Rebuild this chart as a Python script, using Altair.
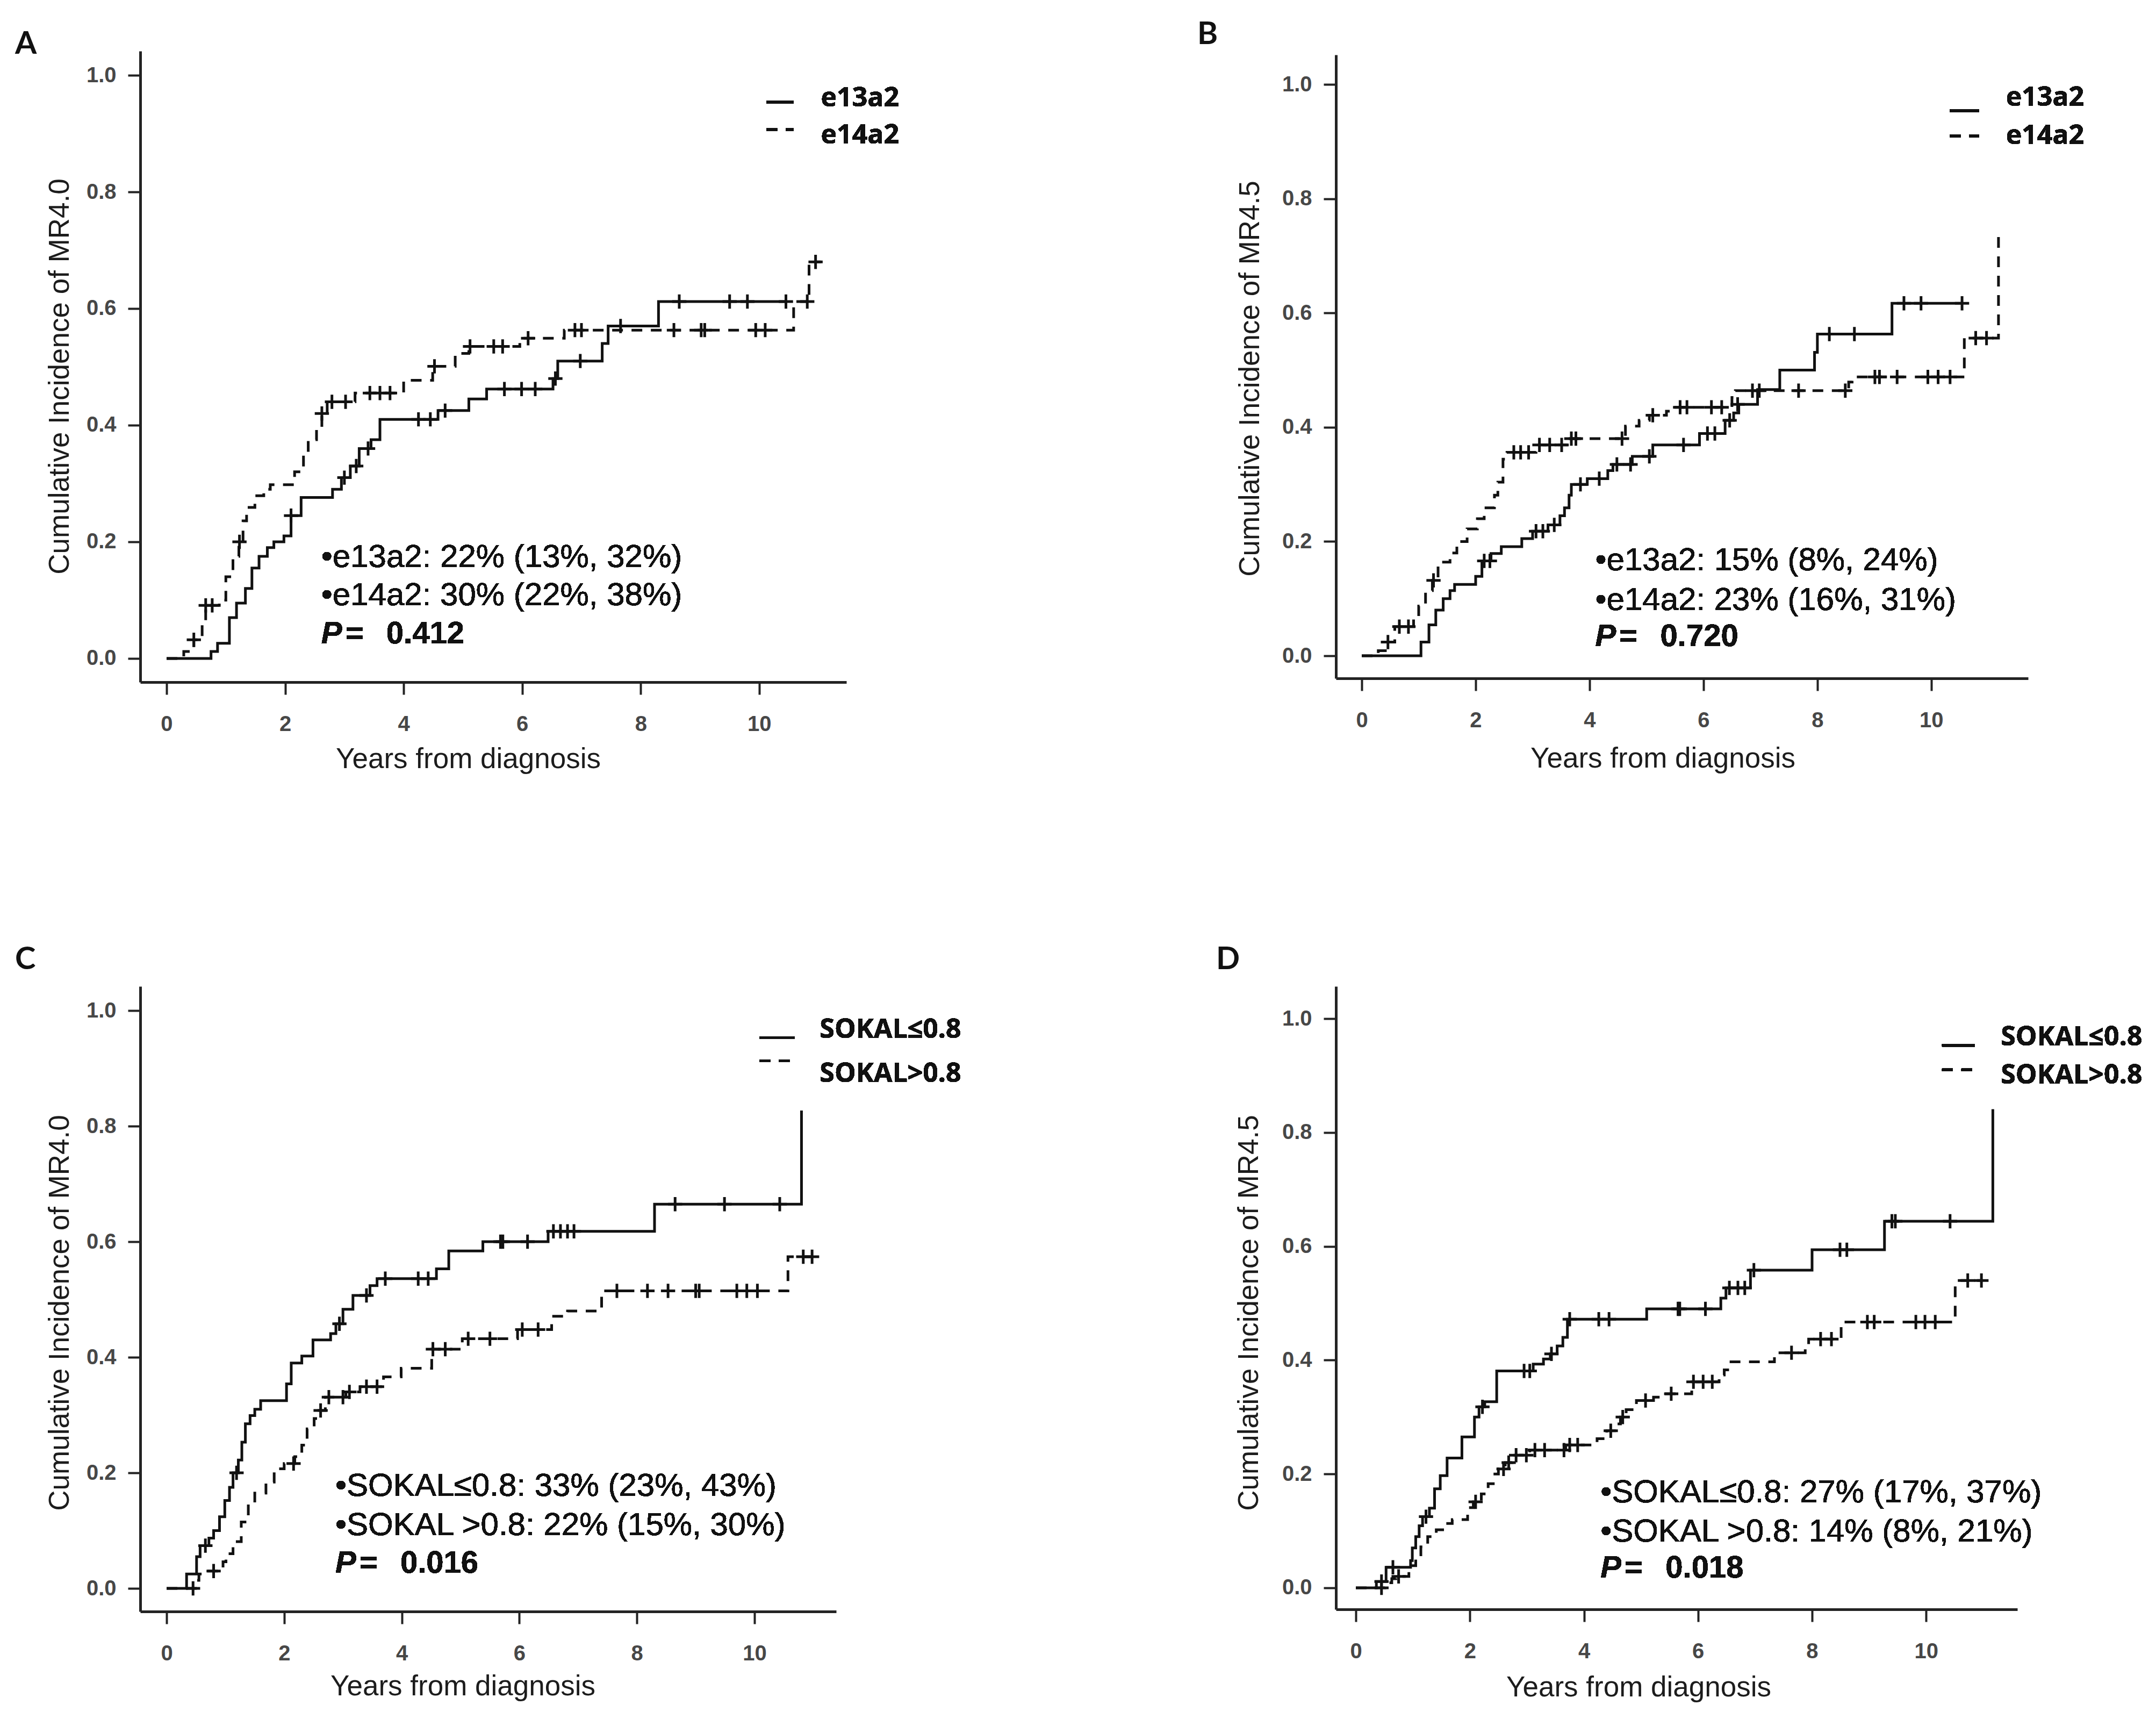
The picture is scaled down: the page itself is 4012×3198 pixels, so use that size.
import altair as alt
import pandas as pd

X_TICKS = [0, 2, 4, 6, 8, 10]
Y_TICKS = [0.0, 0.2, 0.4, 0.6, 0.8, 1.0]

# ---------------- Panel A : MR4.0, e13a2 (solid) vs e14a2 (dashed)
A_sol_t = [0, 0.75, 0.86, 1.06, 1.18, 1.33, 1.44, 1.56, 1.7, 1.81, 1.98, 2.1, 2.27, 2.8, 2.95, 3.1, 3.25, 3.45, 3.6, 4.58, 5.1, 5.4, 6.52, 6.6, 7.35, 7.45, 8.3, 10.45]
A_sol_v = [0, 0.012, 0.026, 0.07, 0.095, 0.12, 0.155, 0.175, 0.19, 0.2, 0.21, 0.245, 0.276, 0.29, 0.31, 0.33, 0.36, 0.375, 0.41, 0.425, 0.445, 0.462, 0.48, 0.51, 0.54, 0.57, 0.612, 0.612]
A_sol_ct = [2.1, 3.0, 3.2, 3.4, 4.25, 4.45, 4.7, 5.7, 5.99, 6.22, 6.56, 6.98, 7.66, 8.65, 9.5, 9.8, 10.45]
A_sol_cv = [0.245, 0.31, 0.33, 0.36, 0.41, 0.41, 0.425, 0.462, 0.462, 0.462, 0.48, 0.51, 0.57, 0.612, 0.612, 0.612, 0.612]
A_das_t = [0, 0.29, 0.46, 0.6, 0.66, 0.89, 1.0, 1.12, 1.22, 1.29, 1.35, 1.49, 1.64, 1.75, 2.16, 2.31, 2.39, 2.53, 2.62, 2.71, 3.18, 4.0, 4.49, 4.87, 5.1, 5.96, 6.71, 10.58, 10.84, 11.04]
A_das_v = [0, 0.012, 0.032, 0.064, 0.091, 0.1, 0.14, 0.175, 0.2, 0.236, 0.259, 0.279, 0.29, 0.298, 0.32, 0.351, 0.375, 0.395, 0.42, 0.44, 0.455, 0.477, 0.501, 0.523, 0.535, 0.549, 0.563, 0.612, 0.68, 0.68]
A_das_ct = [0.46, 0.66, 0.77, 1.23, 2.62, 2.79, 3.02, 3.43, 3.6, 3.77, 4.52, 5.12, 5.52, 5.67, 6.1, 6.89, 7.0, 8.56, 9.02, 9.08, 9.94, 10.1, 10.81, 10.95]
A_das_cv = [0.032, 0.091, 0.091, 0.2, 0.42, 0.44, 0.44, 0.455, 0.455, 0.455, 0.501, 0.535, 0.535, 0.535, 0.549, 0.563, 0.563, 0.563, 0.563, 0.563, 0.563, 0.563, 0.612, 0.68]
A_labels = ["e13a2", "e14a2"]
A_notes = ["\u2022e13a2: 22% (13%, 32%)", "\u2022e14a2: 30% (22%, 38%)"]
A_pval = "0.412"

# ---------------- Panel B : MR4.5, e13a2 vs e14a2
B_sol_t = [0, 1.04, 1.18, 1.3, 1.43, 1.55, 1.63, 2.0, 2.11, 2.27, 2.45, 2.81, 3.0, 3.27, 3.48, 3.56, 3.64, 3.68, 3.96, 4.32, 4.41, 4.75, 5.11, 5.93, 6.38, 6.53, 6.62, 6.95, 7.34, 7.95, 8.0, 9.31, 10.54]
B_sol_v = [0, 0.024, 0.054, 0.08, 0.1, 0.114, 0.125, 0.139, 0.166, 0.179, 0.191, 0.205, 0.218, 0.229, 0.245, 0.259, 0.281, 0.3, 0.31, 0.324, 0.335, 0.349, 0.369, 0.389, 0.412, 0.425, 0.44, 0.466, 0.5, 0.531, 0.563, 0.617, 0.617]
B_sol_ct = [2.15, 2.25, 3.06, 3.18, 3.38, 3.84, 4.17, 4.48, 4.72, 5.05, 5.65, 6.07, 6.2, 6.46, 6.6, 8.21, 8.65, 9.52, 9.82, 10.54]
B_sol_cv = [0.166, 0.166, 0.218, 0.218, 0.229, 0.3, 0.31, 0.335, 0.335, 0.349, 0.369, 0.389, 0.389, 0.412, 0.44, 0.563, 0.563, 0.617, 0.617, 0.617]
B_das_t = [0, 0.29, 0.46, 0.58, 0.91, 1.0, 1.12, 1.24, 1.34, 1.55, 1.67, 1.85, 2.03, 2.15, 2.33, 2.39, 2.48, 2.55, 3.06, 3.6, 4.63, 4.87, 5.05, 5.35, 5.47, 6.5, 6.56, 8.55, 8.61, 10.58, 11.18]
B_das_v = [0, 0.009, 0.024, 0.051, 0.065, 0.087, 0.114, 0.132, 0.164, 0.18, 0.2, 0.222, 0.24, 0.259, 0.281, 0.304, 0.344, 0.356, 0.369, 0.38, 0.402, 0.412, 0.421, 0.428, 0.435, 0.452, 0.464, 0.479, 0.488, 0.556, 0.745]
B_das_ct = [0.46, 0.66, 0.82, 1.26, 2.67, 2.79, 2.93, 3.12, 3.3, 3.51, 3.68, 3.76, 4.57, 5.11, 5.59, 5.71, 6.14, 6.32, 6.86, 6.98, 7.67, 8.49, 9.01, 9.09, 9.4, 9.94, 10.12, 10.33, 10.78, 10.97]
B_das_cv = [0.024, 0.051, 0.051, 0.132, 0.356, 0.356, 0.356, 0.369, 0.369, 0.369, 0.38, 0.38, 0.38, 0.421, 0.435, 0.435, 0.435, 0.435, 0.464, 0.464, 0.464, 0.464, 0.488, 0.488, 0.488, 0.488, 0.488, 0.488, 0.556, 0.556]
B_labels = ["e13a2", "e14a2"]
B_notes = ["\u2022e13a2: 15% (8%, 24%)", "\u2022e14a2: 23% (16%, 31%)"]
B_pval = "0.720"

# ---------------- Panel C : MR4.0, SOKAL<=0.8 vs SOKAL>0.8
C_sol_t = [0, 0.34, 0.51, 0.57, 0.72, 0.8, 0.9, 0.99, 1.07, 1.13, 1.22, 1.28, 1.34, 1.42, 1.5, 1.6, 2.04, 2.12, 2.3, 2.49, 2.79, 2.88, 3.0, 3.17, 3.46, 3.58, 4.59, 4.8, 5.38, 6.49, 8.3, 10.8]
C_sol_v = [0, 0.025, 0.055, 0.074, 0.087, 0.1, 0.124, 0.152, 0.175, 0.2, 0.222, 0.253, 0.285, 0.299, 0.31, 0.325, 0.354, 0.39, 0.402, 0.43, 0.441, 0.458, 0.483, 0.507, 0.524, 0.536, 0.553, 0.584, 0.6, 0.618, 0.665, 0.827]
C_sol_ct = [0.66, 1.19, 2.94, 3.4, 3.72, 4.28, 4.45, 5.68, 5.72, 6.14, 6.58, 6.7, 6.82, 6.93, 8.65, 9.49, 10.43]
C_sol_cv = [0.074, 0.2, 0.458, 0.507, 0.536, 0.536, 0.536, 0.6, 0.6, 0.6, 0.618, 0.618, 0.618, 0.618, 0.665, 0.665, 0.665]
C_das_t = [0, 0.49, 0.55, 0.65, 0.96, 1.01, 1.13, 1.27, 1.39, 1.5, 1.69, 1.83, 2.0, 2.18, 2.3, 2.39, 2.51, 2.59, 2.7, 3.05, 3.29, 3.69, 3.99, 4.51, 5.03, 5.97, 6.55, 6.82, 7.4, 10.57, 10.98]
C_das_v = [0, 0.014, 0.025, 0.03, 0.046, 0.06, 0.081, 0.115, 0.147, 0.165, 0.184, 0.207, 0.216, 0.228, 0.248, 0.276, 0.294, 0.308, 0.331, 0.34, 0.349, 0.366, 0.381, 0.414, 0.432, 0.448, 0.471, 0.48, 0.515, 0.574, 0.574]
C_das_ct = [0.45, 0.8, 2.16, 2.62, 2.76, 3.0, 3.11, 3.4, 3.58, 4.53, 4.74, 5.13, 5.5, 6.05, 6.32, 7.66, 8.18, 8.53, 9.0, 9.06, 9.7, 9.87, 10.05, 10.83, 10.98]
C_das_cv = [0, 0.03, 0.216, 0.308, 0.331, 0.331, 0.34, 0.349, 0.349, 0.414, 0.414, 0.432, 0.432, 0.448, 0.448, 0.515, 0.515, 0.515, 0.515, 0.515, 0.515, 0.515, 0.515, 0.574, 0.574]
C_labels = ["SOKAL\u22640.8", "SOKAL>0.8"]
C_notes = ["\u2022SOKAL\u22640.8: 33% (23%, 43%)", "\u2022SOKAL >0.8: 22% (15%, 30%)"]
C_pval = "0.016"

# ---------------- Panel D : MR4.5, SOKAL<=0.8 vs SOKAL>0.8
D_sol_t = [0, 0.36, 0.53, 0.96, 0.99, 1.05, 1.11, 1.17, 1.29, 1.38, 1.48, 1.6, 1.86, 2.08, 2.16, 2.26, 2.47, 3.11, 3.29, 3.41, 3.53, 3.63, 3.71, 5.1, 6.4, 6.49, 6.92, 8.0, 9.27, 11.17]
D_sol_v = [0, 0.011, 0.036, 0.048, 0.07, 0.09, 0.109, 0.125, 0.14, 0.174, 0.197, 0.228, 0.265, 0.3, 0.318, 0.327, 0.381, 0.393, 0.402, 0.411, 0.425, 0.44, 0.472, 0.49, 0.509, 0.527, 0.558, 0.594, 0.644, 0.841]
D_sol_ct = [0.45, 0.65, 1.23, 2.22, 2.95, 3.05, 3.43, 3.75, 4.26, 4.44, 5.65, 5.68, 6.13, 6.55, 6.7, 6.82, 6.98, 8.49, 8.61, 9.4, 9.46, 10.42]
D_sol_cv = [0.011, 0.036, 0.125, 0.318, 0.381, 0.381, 0.411, 0.472, 0.472, 0.472, 0.49, 0.49, 0.49, 0.527, 0.527, 0.527, 0.558, 0.594, 0.594, 0.644, 0.644, 0.644]
D_das_t = [0, 0.51, 0.63, 0.7, 0.93, 0.99, 1.05, 1.14, 1.26, 1.41, 1.57, 1.69, 1.96, 2.06, 2.2, 2.32, 2.41, 2.5, 2.62, 2.74, 3.05, 3.68, 4.23, 4.4, 4.56, 4.64, 4.74, 4.92, 5.22, 5.4, 5.89, 6.37, 6.46, 6.55, 7.34, 7.88, 7.94, 8.51, 10.51, 10.97]
D_das_v = [0, 0.009, 0.016, 0.02, 0.034, 0.039, 0.058, 0.072, 0.09, 0.102, 0.113, 0.12, 0.141, 0.151, 0.165, 0.183, 0.2, 0.209, 0.22, 0.233, 0.242, 0.251, 0.262, 0.276, 0.288, 0.3, 0.313, 0.329, 0.335, 0.341, 0.362, 0.374, 0.383, 0.397, 0.413, 0.425, 0.437, 0.467, 0.54, 0.54]
D_das_ct = [0.45, 0.75, 2.1, 2.59, 2.68, 2.81, 2.99, 3.14, 3.31, 3.65, 3.75, 3.89, 4.47, 4.68, 5.08, 5.53, 5.92, 6.09, 6.25, 7.64, 8.15, 8.34, 8.97, 9.09, 9.82, 9.98, 10.16, 10.73, 10.97]
D_das_cv = [0, 0.02, 0.151, 0.209, 0.22, 0.233, 0.233, 0.242, 0.242, 0.242, 0.251, 0.251, 0.276, 0.3, 0.329, 0.341, 0.362, 0.362, 0.362, 0.413, 0.437, 0.437, 0.467, 0.467, 0.467, 0.467, 0.467, 0.54, 0.54]
D_labels = ["SOKAL\u22640.8", "SOKAL>0.8"]
D_notes = ["\u2022SOKAL\u22640.8: 27% (17%, 37%)", "\u2022SOKAL >0.8: 14% (8%, 21%)"]
D_pval = "0.018"

# ---------------- styling / layout (not data)
INK = "#111111"
AXC = "#232323"
TXT = "Liberation Sans"
BOLDF = "Open Sans"
DASH = [20, 16]
PLUS = "M-1,0L1,0M0,-1L0,1"

LAYOUT = {
    "A": dict(w=1314, h=1174, xdom=[-0.444, 11.47], ydom=[-0.0406, 1.0415], ldx=-233, ldy=63,
              xtx=610, xty=159, ytx=-134, yty=605, ytitle="Cumulative Incidence of MR4.0",
              lx=(10.12, 10.58, 11.04), ly=(0.954, 0.907), lty=(0.947, 0.883),
              nx=2.61, ny=(0.157, 0.091, 0.026)),
    "B": dict(w=1288, h=1160, xdom=[-0.453, 11.70], ydom=[-0.0395, 1.0518], ldx=-258, ldy=38,
              xtx=608, xty=165, ytx=-144, yty=602, ytitle="Cumulative Incidence of MR4.5",
              lx=(10.33, 10.84, 11.31), ly=(0.954, 0.910), lty=(0.962, 0.896),
              nx=4.10, ny=(0.150, 0.080, 0.017)),
    "C": dict(w=1295, h=1163, xdom=[-0.448, 11.39], ydom=[-0.040, 1.0419], ldx=-233, ldy=26,
              xtx=600, xty=155, ytx=-134, yty=607, ytitle="Cumulative Incidence of MR4.0",
              lx=(10.09, 10.68, 11.11), ly=(0.953, 0.913), lty=(0.953, 0.876),
              nx=2.87, ny=(0.160, 0.092, 0.027)),
    "D": dict(w=1268, h=1159, xdom=[-0.349, 11.60], ydom=[-0.0378, 1.0567], ldx=-223, ldy=26,
              xtx=563, xty=161, ytx=-146, yty=607, ytitle="Cumulative Incidence of MR4.5",
              lx=(10.28, 10.85, 11.31), ly=(0.953, 0.910), lty=(0.953, 0.886),
              nx=4.29, ny=(0.150, 0.081, 0.018)),
}


def panel(letter, sol_t, sol_v, sol_ct, sol_cv, das_t, das_v, das_ct, das_cv, labels, notes, pval):
    L = LAYOUT[letter]
    xs = alt.Scale(domain=L["xdom"], nice=False, zero=False)
    ys = alt.Scale(domain=L["ydom"], nice=False, zero=False)
    xax = alt.Axis(values=X_TICKS, format="d", title="Years from diagnosis",
                   titleX=L["xtx"], titleY=L["xty"], titleAlign="center", titleBaseline="alphabetic",
                   labelPadding=35, labelBaseline="top")
    yax = alt.Axis(values=Y_TICKS, format=".1f", title=L["ytitle"],
                   titleX=L["ytx"], titleY=L["yty"], titleAngle=270, titleAlign="center",
                   titleBaseline="alphabetic", labelPadding=22)

    sol = pd.DataFrame({"t": sol_t, "v": sol_v})
    das = pd.DataFrame({"t": das_t, "v": das_v})
    cen = pd.DataFrame({"t": sol_ct + das_ct, "v": sol_cv + das_cv})

    line_s = alt.Chart(sol).mark_line(interpolate="step-after", color=INK, strokeWidth=5).encode(
        x=alt.X("t:Q", scale=xs, axis=xax), y=alt.Y("v:Q", scale=ys, axis=yax))
    line_d = alt.Chart(das).mark_line(interpolate="step-after", color=INK, strokeWidth=5,
                                      strokeDash=DASH).encode(x="t:Q", y="v:Q")
    marks = alt.Chart(cen).mark_point(shape=PLUS, size=700, filled=False, strokeWidth=5,
                                      color=INK, opacity=1).encode(x="t:Q", y="v:Q")

    x1, x2, xl = L["lx"]
    leg_s = alt.Chart(sol).mark_rule(color=INK, strokeWidth=5).encode(
        x=alt.datum(x1), x2=alt.datum(x2), y=alt.datum(L["ly"][0]))
    leg_d = alt.Chart(sol).mark_rule(color=INK, strokeWidth=5, strokeDash=DASH).encode(
        x=alt.datum(x1), x2=alt.datum(x2), y=alt.datum(L["ly"][1]))
    leg_t = [alt.Chart(sol).mark_text(text=labels[i], font=BOLDF, fontWeight="bold", fontSize=50,
                                      color=INK, align="left", baseline="alphabetic").encode(
        x=alt.datum(xl), y=alt.datum(L["lty"][i])) for i in range(2)]

    nx = L["nx"]
    ny = L["ny"]
    note_t = [alt.Chart(sol).mark_text(text=notes[i], font=TXT, fontSize=60, color=INK,
                                       align="left", baseline="alphabetic").encode(
        x=alt.datum(nx), y=alt.datum(ny[i])) for i in range(2)]
    p_t = alt.Chart(sol).mark_text(text="P", font=TXT, fontSize=58, fontWeight="bold", fontStyle="italic",
                                   color=INK, align="left", baseline="alphabetic").encode(
        x=alt.datum(nx), y=alt.datum(ny[2]))
    eq_t = alt.Chart(sol).mark_text(text="=", font=TXT, fontSize=58, fontWeight="bold", dx=45,
                                    color=INK, align="left", baseline="alphabetic").encode(
        x=alt.datum(nx), y=alt.datum(ny[2]))
    pv_t = alt.Chart(sol).mark_text(text=pval, font=TXT, fontSize=58, fontWeight="bold", dx=121,
                                    color=INK, align="left", baseline="alphabetic").encode(
        x=alt.datum(nx), y=alt.datum(ny[2]))

    return alt.layer(line_s, line_d, marks, leg_s, leg_d, *leg_t, *note_t, p_t, eq_t, pv_t).properties(
        width=L["w"], height=L["h"],
        title=alt.TitleParams(text=letter, anchor="start", frame="group", orient="top", offset=0,
                              dx=L["ldx"], dy=L["ldy"], font="Lato", fontSize=58, fontWeight="bold",
                              color=INK, baseline="alphabetic"))


pA = panel("A", A_sol_t, A_sol_v, A_sol_ct, A_sol_cv, A_das_t, A_das_v, A_das_ct, A_das_cv, A_labels, A_notes, A_pval)
pB = panel("B", B_sol_t, B_sol_v, B_sol_ct, B_sol_cv, B_das_t, B_das_v, B_das_ct, B_das_cv, B_labels, B_notes, B_pval)
pC = panel("C", C_sol_t, C_sol_v, C_sol_ct, C_sol_cv, C_das_t, C_das_v, C_das_ct, C_das_cv, C_labels, C_notes, C_pval)
pD = panel("D", D_sol_t, D_sol_v, D_sol_ct, D_sol_cv, D_das_t, D_das_v, D_das_ct, D_das_cv, D_labels, D_notes, D_pval)

chart = alt.concat(pA, pB, pC, pD, columns=2, spacing={"row": 566, "column": 911},
                   center={"row": True, "column": False}, bounds="flush").properties(
    padding={"left": 20, "top": 28, "right": 5, "bottom": 5}
).configure_view(strokeWidth=0).configure_axis(
    grid=False, domainColor=AXC, domainWidth=5, tickColor=AXC, tickWidth=4, tickSize=23,
    labelFont=TXT, labelFontSize=40, labelFontWeight="bold", labelColor="#474747",
    labelFlush=False, labelOverlap=False,
    titleFont=TXT, titleFontSize=53, titleFontWeight="normal", titleColor="#1c1c1c"
)

chart.save("out.html", embed_options={"renderer": "svg", "actions": False})
